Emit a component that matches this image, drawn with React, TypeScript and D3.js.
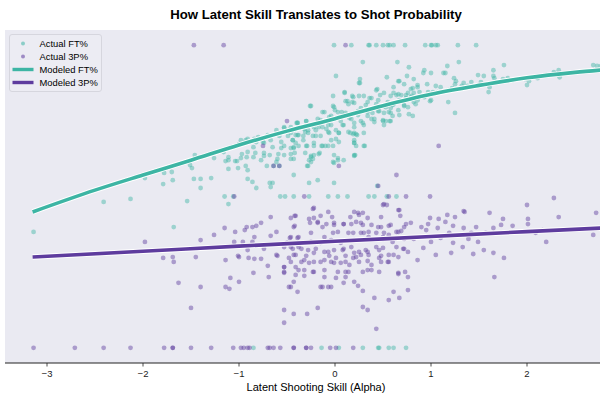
import * as d3 from "d3";
import React from "react";

const ftActual: [number, number][] = [
  [-0.01, 1], [0.17, 1], [0.35, 1], [0.36, 1], [0.43, 1], [0.5, 1], [0.55, 1], [0.57, 1], [0.61, 1],
  [0.73, 1], [0.94, 1], [1.0, 1], [1.01, 1], [1.05, 1], [1.07, 1], [1.28, 1], [1.47, 1],
  [-0.85, 0], [-0.14, 0], [0.04, 0], [0.29, 0], [0.45, 0], [0.46, 0], [0.56, 0], [0.61, 0], [0.74, 0],
  [-1.15, 0.5], [-1.06, 0.5], [-0.57, 0.5], [-0.52, 0.5], [-0.43, 0.5], [-0.27, 0.5], [-0.07, 0.5],
  [0.03, 0.5], [0.13, 0.5], [0.35, 0.5], [0.41, 0.5], [0.54, 0.5], [0.64, 0.5],
  [-3.14, 0.383], [-2.41, 0.482], [-2.13, 0.492], [-1.68, 0.399], [-1.54, 0.485], [-1.11, 0.475],
  [-1.98, 0.561], [-1.78, 0.578], [-1.7, 0.581], [-1.69, 0.554], [-1.79, 0.541], [-1.51, 0.604],
  [-1.49, 0.594], [-1.46, 0.637], [-1.26, 0.627], [-1.47, 0.558], [-1.4, 0.558], [-1.29, 0.561],
  [-1.4, 0.528], [-1.16, 0.647], [-1.08, 0.663], [-0.93, 0.686], [-0.84, 0.69], [-0.75, 0.68],
  [-1.0, 0.673], [-0.97, 0.64], [-0.91, 0.647], [-0.83, 0.644], [-0.92, 0.63], [-0.74, 0.644],
  [-0.65, 0.663], [-0.53, 0.667], [-0.68, 0.637], [-0.6, 0.624], [-0.53, 0.637], [-0.43, 0.624],
  [-0.46, 0.66], [-0.41, 0.677], [-0.53, 0.729], [-0.5, 0.719], [-0.4, 0.743], [-0.46, 0.71],
  [-0.38, 0.703], [-1.11, 0.62], [-1.04, 0.617], [-1.01, 0.594], [-0.93, 0.601], [-0.91, 0.587],
  [-0.77, 0.62], [-0.71, 0.601], [-0.64, 0.601], [-0.43, 0.571], [-0.91, 0.558], [-0.86, 0.548],
  [-0.82, 0.528], [-0.68, 0.545], [-0.65, 0.545], [-1.11, 0.591], [-1.14, 0.617], [-1.02, 0.617],
  [-0.61, 0.614], [-0.58, 0.601], [-0.29, 0.601], [-0.27, 0.62], [-0.02, 0.614], [0.03, 0.62],
  [-0.67, 0.531], [-0.27, 0.545], [-0.18, 0.554], [-0.01, 0.545], [0.44, 0.535],
  [0.29, 0.944], [0.01, 0.898], [0.26, 0.888], [0.26, 0.875], [0.43, 0.851], [0.1, 0.845],
  [-0.02, 0.832], [0.19, 0.828], [0.3, 0.832], [0.36, 0.825], [0.45, 0.818], [0.13, 0.815],
  [0.18, 0.812], [0.14, 0.805], [-0.26, 0.799], [-0.01, 0.795], [0.0, 0.785], [-0.13, 0.779],
  [0.07, 0.779], [0.27, 0.792], [0.32, 0.802], [0.39, 0.776], [0.46, 0.782], [-0.04, 0.766],
  [-0.15, 0.752], [0.03, 0.759], [0.15, 0.759], [0.24, 0.769], [0.34, 0.766], [0.41, 0.756],
  [-0.3, 0.749], [-0.39, 0.743], [-0.46, 0.729], [-0.32, 0.729], [-0.23, 0.736], [-0.17, 0.729],
  [-0.07, 0.736], [0.09, 0.736], [0.2, 0.729], [0.29, 0.743], [-0.53, 0.726], [-0.28, 0.719],
  [-0.2, 0.719], [-0.09, 0.723], [0.01, 0.719], [0.14, 0.713], [-0.61, 0.719], [-0.58, 0.7],
  [-0.49, 0.7], [-0.41, 0.703], [-0.33, 0.7], [-0.23, 0.7], [-0.15, 0.7], [-0.07, 0.713],
  [0.04, 0.71], [0.19, 0.706], [0.3, 0.71], [-0.8, 0.696], [-0.7, 0.703], [-0.82, 0.68],
  [-0.74, 0.677], [-0.67, 0.686], [-0.56, 0.68], [-0.44, 0.686], [-0.38, 0.667], [-0.3, 0.667],
  [-0.29, 0.667], [-0.22, 0.667], [-0.13, 0.667], [-0.07, 0.667], [-0.02, 0.667], [0.01, 0.69],
  [0.2, 0.686], [0.22, 0.667], [-0.98, 0.686], [-0.91, 0.69], [-1.03, 0.667], [-0.85, 0.663],
  [-0.56, 0.66], [-0.43, 0.66], [-0.46, 0.64], [-0.31, 0.644], [-0.22, 0.637], [0.03, 0.627],
  [0.2, 0.634], [-1.11, 0.63], [-0.98, 0.627], [-0.85, 0.63], [-0.74, 0.634], [-0.59, 0.64],
  [-0.31, 0.713], [-0.22, 0.677], [-0.14, 0.667], [-0.1, 0.667], [0.16, 0.71], [0.23, 0.703],
  [0.2, 0.677], [0.21, 0.637], [0.3, 0.667], [-0.25, 0.634], [-0.16, 0.644], [-0.28, 0.601],
  [-0.25, 0.614], [-0.01, 0.637], [0.09, 0.62], [-0.01, 0.611],
  [0.65, 0.944], [0.77, 0.927], [0.54, 0.894], [0.75, 0.898], [0.82, 0.888], [0.67, 0.881],
  [0.92, 0.908], [0.93, 0.917], [1.0, 0.908], [1.17, 0.931], [1.29, 0.944], [1.13, 0.908],
  [1.15, 0.908], [0.61, 0.861], [0.72, 0.871], [0.81, 0.858], [0.86, 0.868], [0.96, 0.871],
  [1.05, 0.865], [1.1, 0.861], [1.24, 0.891], [1.26, 0.881], [1.25, 0.871], [1.34, 0.875],
  [1.42, 0.878], [1.38, 0.865], [1.49, 0.901], [1.55, 0.898], [1.52, 0.878], [1.65, 0.917],
  [1.65, 0.898], [1.76, 0.934], [1.66, 0.891], [1.75, 0.888], [1.8, 0.891], [1.85, 0.884],
  [1.98, 0.888], [2.02, 0.881], [2.0, 0.868], [2.11, 0.891], [2.2, 0.901], [2.28, 0.911],
  [2.33, 0.917], [2.34, 0.894], [1.6, 0.845], [1.61, 0.861], [1.32, 0.865], [1.22, 0.858],
  [0.51, 0.842], [0.61, 0.842], [0.64, 0.835], [0.69, 0.835], [0.76, 0.842], [0.82, 0.842],
  [0.88, 0.845], [0.97, 0.845], [1.02, 0.845], [1.07, 0.845], [1.18, 0.851], [0.67, 0.818],
  [0.74, 0.825], [0.79, 0.828], [0.86, 0.818], [0.93, 0.828], [1.0, 0.818], [0.55, 0.812],
  [0.61, 0.805], [0.72, 0.799], [0.84, 0.805], [0.99, 0.815], [1.18, 0.812], [0.53, 0.795],
  [0.58, 0.792], [0.66, 0.785], [0.76, 0.795], [0.81, 0.766], [1.25, 0.776], [0.51, 0.776],
  [0.56, 0.779], [0.5, 0.752], [0.53, 0.749], [0.57, 0.749], [0.51, 0.736], [0.6, 0.766],
  [2.69, 0.934], [2.73, 0.931], [2.77, 0.931],
  [0.25, 0.875], [0.66, 0.881], [0.1, 0.842], [0.18, 0.832], [0.25, 0.832], [0.38, 0.825],
  [0.47, 0.835], [0.44, 0.855], [0.58, 0.832], [0.66, 0.838], [0.74, 0.835], [0.79, 0.855],
  [0.86, 0.861], [0.8, 0.832], [-0.25, 0.799], [-0.02, 0.799], [0.11, 0.815], [0.2, 0.809],
  [0.34, 0.812], [0.43, 0.805], [0.51, 0.799], [0.6, 0.802], [0.72, 0.802], [0.82, 0.812],
  [-0.11, 0.779], [0.03, 0.779], [0.11, 0.776], [0.24, 0.782], [0.34, 0.779], [0.45, 0.782],
  [0.58, 0.776], [0.67, 0.769], [0.77, 0.772], [-0.39, 0.743], [-0.3, 0.749], [-0.18, 0.756],
  [-0.06, 0.762], [0.06, 0.749], [0.17, 0.756], [0.27, 0.749], [0.38, 0.756], [0.5, 0.749],
  [0.58, 0.749], [-0.43, 0.719], [-0.32, 0.723], [-0.22, 0.729], [-0.13, 0.729], [-0.04, 0.736],
  [0.08, 0.736], [0.2, 0.743], [0.3, 0.736], [0.41, 0.746], [-0.39, 0.703], [-0.28, 0.71],
  [-0.2, 0.7], [-0.06, 0.71], [0.04, 0.71], [0.2, 0.71], [-0.44, 0.686], [-0.33, 0.686],
  [-0.04, 0.686], [0.04, 0.68], [0.22, 0.706], [-0.43, 0.663], [0.2, 0.677], [-0.42, 0.644],
  [-0.25, 0.63], [-0.17, 0.64], [0.31, 0.667], [0.2, 0.637], [-0.46, 0.624], [-0.23, 0.624],
];

const tpActual: [number, number][] = [
  [-1.47, 1], [-1.16, 1], [0.11, 1],
  [-3.14, 0], [-2.71, 0], [-2.41, 0], [-2.13, 0], [-1.78, 0], [-1.69, 0], [-1.69, 0], [-1.5, 0],
  [-1.29, 0], [-1.06, 0], [-0.98, 0], [-0.95, 0], [-0.91, 0], [-0.89, 0], [-0.7, 0], [-0.68, 0],
  [-0.64, 0], [-0.57, 0], [-0.43, 0], [-0.43, 0], [-0.3, 0], [-0.3, 0], [-0.25, 0], [-0.05, 0],
  [0.01, 0], [0.19, 0],
  [-0.5, 0.749], [-0.75, 0.667], [-0.64, 0.601], [-0.58, 0.601], [-1.05, 0.5], [-0.32, 0.5],
  [0.04, 0.601], [0.64, 0.571], [0.45, 0.535], [0.56, 0.5], [0.74, 0.5], [0.99, 0.5], [1.08, 0.667],
  [-1.98, 0.35], [-1.79, 0.297], [-1.69, 0.3], [-1.68, 0.284], [-1.63, 0.215],
  [-1.45, 0.3], [-1.4, 0.356], [-1.26, 0.373], [-1.14, 0.29], [-1.15, 0.396], [-1.04, 0.383],
  [-1.05, 0.35], [-0.96, 0.35], [-0.94, 0.389], [-0.92, 0.399], [-0.86, 0.399], [-0.82, 0.403],
  [-0.77, 0.413], [-0.84, 0.366], [-0.86, 0.35], [-0.91, 0.323], [-1.0, 0.3], [-0.9, 0.297],
  [-0.77, 0.294], [-0.84, 0.294], [-1.0, 0.218], [-1.09, 0.231], [-1.14, 0.201], [-1.1, 0.195],
  [-1.4, 0.201], [-0.85, 0.248], [-0.7, 0.271], [-0.69, 0.234], [-0.67, 0.432], [-0.61, 0.383],
  [-0.61, 0.307], [-0.46, 0.429], [-0.41, 0.436], [-0.43, 0.399], [-0.47, 0.363], [-0.39, 0.363],
  [-0.46, 0.333], [-0.38, 0.333], [-0.41, 0.307], [-0.53, 0.267], [-0.41, 0.267], [-0.53, 0.248],
  [-0.43, 0.218], [-0.48, 0.201], [-0.39, 0.185], [-1.5, 0.132], [-0.53, 0.125], [-0.53, 0.083],
  [-0.43, 0.112], [-0.5, 0.347], [-0.48, 0.297], [-0.74, 0.327], [-0.67, 0.37], [-0.6, 0.304],
  [-1.01, 0.304],
  [-0.22, 0.462], [0.51, 0.475], [0.54, 0.472], [0.2, 0.449], [0.25, 0.439], [0.48, 0.432],
  [0.67, 0.455], [0.68, 0.436], [0.99, 0.429], [1.08, 0.426], [1.17, 0.439], [1.25, 0.432],
  [1.35, 0.449], [1.61, 0.446], [1.75, 0.426], [2.0, 0.472], [2.01, 0.426], [1.85, 0.403],
  [2.33, 0.432], [2.72, 0.446], [1.73, 0.406], [1.65, 0.396], [1.47, 0.399], [1.34, 0.396],
  [1.23, 0.403], [1.15, 0.416], [1.07, 0.396], [0.97, 0.409], [0.9, 0.399], [0.79, 0.413],
  [0.72, 0.399], [0.58, 0.406], [0.48, 0.399], [0.38, 0.406], [0.27, 0.413], [0.17, 0.409],
  [0.09, 0.409], [-0.01, 0.406], [-0.09, 0.409], [-0.18, 0.416], [-0.27, 0.426], [-0.02, 0.38],
  [0.14, 0.38], [0.3, 0.38], [0.51, 0.38], [0.66, 0.383], [0.95, 0.389], [1.19, 0.38],
  [1.42, 0.38], [1.57, 0.38], [1.73, 0.38], [2.09, 0.38], [2.69, 0.373], [2.2, 0.35],
  [-0.25, 0.35], [-0.15, 0.347], [-0.04, 0.356], [0.06, 0.347], [0.2, 0.356], [0.35, 0.366],
  [0.5, 0.36], [0.6, 0.35], [0.72, 0.36], [0.82, 0.36], [1.0, 0.35], [1.1, 0.363], [1.23, 0.347],
  [1.39, 0.36], [1.49, 0.35], [-0.28, 0.323], [-0.2, 0.327], [-0.07, 0.317], [-0.01, 0.323],
  [0.09, 0.327], [0.2, 0.314], [0.34, 0.317], [0.46, 0.323], [0.56, 0.307], [0.71, 0.327],
  [0.86, 0.29], [0.92, 0.33], [1.05, 0.307], [1.21, 0.314], [1.33, 0.333], [1.44, 0.31],
  [1.55, 0.323], [1.65, 0.314], [1.76, 0.297], [-0.32, 0.29], [-0.22, 0.284], [-0.11, 0.29],
  [-0.01, 0.281], [0.11, 0.284], [0.22, 0.3], [0.34, 0.287], [0.46, 0.297], [0.55, 0.284],
  [0.66, 0.3], [0.76, 0.317], [-0.32, 0.257], [-0.22, 0.251], [-0.11, 0.257], [0.01, 0.231],
  [0.11, 0.251], [0.2, 0.218], [0.29, 0.251], [0.34, 0.257], [0.46, 0.251], [0.66, 0.244],
  [0.73, 0.251], [1.66, 0.234], [-0.15, 0.201], [-0.07, 0.201], [0.09, 0.215], [0.29, 0.188],
  [0.41, 0.165], [0.56, 0.158], [0.61, 0.185], [0.67, 0.165], [0.76, 0.191], [-0.18, 0.132],
  [0.29, 0.135], [0.34, 0.125], [-0.29, 0.112], [0.43, 0.063],
  [2.28, 0.495], [2.01, 0.409], [2.16, 0.389], [1.34, 0.452],
  [-0.23, 0.459], [-0.42, 0.436], [-0.22, 0.429], [-0.15, 0.436], [-0.07, 0.449], [-0.03, 0.432],
  [-0.26, 0.413], [-0.18, 0.413], [-0.42, 0.403], [-0.13, 0.399], [-0.01, 0.413], [0.09, 0.409],
  [0.16, 0.432], [0.24, 0.446], [0.29, 0.446], [0.34, 0.429], [0.5, 0.472], [0.66, 0.455],
  [0.74, 0.409], [0.22, 0.416], [0.29, 0.406], [0.45, 0.399], [0.56, 0.403], [0.64, 0.383],
  [0.69, 0.386], [-0.46, 0.366], [-0.38, 0.366], [-0.25, 0.38], [-0.11, 0.366], [0.03, 0.383],
  [0.19, 0.38], [0.27, 0.38], [0.35, 0.383], [0.43, 0.38], [0.5, 0.366], [0.56, 0.373],
  [-0.53, 0.333], [-0.44, 0.327], [-0.35, 0.327], [-0.11, 0.317], [0.08, 0.323], [0.17, 0.333],
  [0.25, 0.317], [0.32, 0.323], [0.43, 0.333], [0.5, 0.33], [0.64, 0.333], [0.72, 0.327],
  [-0.43, 0.307], [-0.3, 0.304], [-0.22, 0.314], [-0.06, 0.304], [0.01, 0.297], [0.11, 0.304],
  [0.19, 0.297], [0.27, 0.307], [0.35, 0.307], [0.48, 0.304], [0.61, 0.307], [-0.53, 0.267],
  [-0.46, 0.284], [-0.35, 0.284], [-0.27, 0.281], [-0.15, 0.284], [-0.04, 0.284], [0.06, 0.281],
  [0.15, 0.274], [0.25, 0.284], [0.38, 0.274], [0.48, 0.284], [0.56, 0.284], [-0.53, 0.251],
  [-0.38, 0.257], [-0.23, 0.251], [-0.11, 0.234], [0.03, 0.251], [0.14, 0.251], [0.38, 0.257],
  [-0.41, 0.241], [-0.32, 0.238], [0.11, 0.234], [-0.46, 0.201], [-0.13, 0.201], [-0.04, 0.201],
  [0.24, 0.205], [0.66, 0.248], [0.76, 0.234],
];

// fitted curves
const ftModel: [number, number][] = [
  [-3.15, 0.449], [-2.5, 0.521], [-2, 0.571], [-1.5, 0.62], [-1, 0.67], [-0.5, 0.716],
  [0, 0.757], [0.5, 0.8], [1, 0.838], [1.5, 0.867], [2, 0.892], [2.5, 0.91], [2.85, 0.92],
];
const tpModel: [number, number][] = [
  [-3.15, 0.3], [-2, 0.319], [-1, 0.336], [0, 0.352], [1, 0.368], [2, 0.384], [2.85, 0.397],
];

const xTicks = [-3, -2, -1, 0, 1, 2];

const FT = "#3db5a4";
const TP = "#5e3c9e";
const FONT = "'Liberation Sans', Arial, sans-serif";

export default function App() {
  const width = 600;
  const height = 400;
  const left = 5;
  const right = 600;
  const top = 30;
  const bottom = 363;
  const centerX = 316; // the original figure is wider than the crop

  const x = d3.scaleLinear().domain([-3.4375, 2.7604]).range([left, right]);
  const y = d3.scaleLinear().domain([-0.05, 1.05]).range([bottom, top]);

  const line = d3
    .line<[number, number]>()
    .x((d) => x(d[0]))
    .y((d) => y(d[1]))
    .curve(d3.curveMonotoneX);

  const legendItems = [
    { label: "Actual FT%", color: FT, kind: "dot" },
    { label: "Actual 3P%", color: TP, kind: "dot" },
    { label: "Modeled FT%", color: FT, kind: "line" },
    { label: "Modeled 3P%", color: TP, kind: "line" },
  ];

  return (
    <svg
      width={width}
      height={height}
      style={{ position: "absolute", left: 0, top: 0, background: "#fff" }}
      fontFamily={FONT}
    >
      <defs>
        <clipPath id="plot">
          <rect x={left} y={top} width={right - left} height={bottom - top} />
        </clipPath>
      </defs>
      <text x={centerX} y={19} textAnchor="middle" fontSize={13.2} fontWeight="bold" fill="#000">
        How Latent Skill Translates to Shot Probability
      </text>
      <rect x={left} y={top} width={right - left} height={bottom - top} fill="#eaeaf2" />

      <g clipPath="url(#plot)">
        <g fill={FT} fillOpacity={0.45}>
          {ftActual.map((d, i) => (
            <circle key={i} cx={x(d[0])} cy={y(d[1])} r={2.4} />
          ))}
        </g>
        <g fill={TP} fillOpacity={0.45}>
          {tpActual.map((d, i) => (
            <circle key={i} cx={x(d[0])} cy={y(d[1])} r={2.4} />
          ))}
        </g>
        {[
          { data: ftModel, color: FT },
          { data: tpModel, color: TP },
        ].map((s, i) => (
          <g key={i} fill="none" strokeLinecap="butt">
            <path d={line(s.data) ?? ""} stroke="#fff" strokeWidth={5.5} />
            <path d={line(s.data) ?? ""} stroke={s.color} strokeWidth={3.6} />
          </g>
        ))}
      </g>

      {/* x axis */}
      <line x1={left} x2={right} y1={bottom} y2={bottom} stroke="#222" strokeWidth={1} />
      {xTicks.map((t) => (
        <g key={t} transform={`translate(${x(t)},${bottom})`}>
          <line y2={3.5} stroke="#222" strokeWidth={0.8} />
          <text y={14} textAnchor="middle" fontSize={9.5} fill="#222">
            {d3.format("")(t).replace("-", "\u2212")}
          </text>
        </g>
      ))}
      <text x={centerX} y={391} textAnchor="middle" fontSize={11} fill="#000">
        Latent Shooting Skill (Alpha)
      </text>

      {/* legend */}
      <g transform="translate(9.5,34.5)">
        <rect width={92} height={57} rx={2.5} fill="#ececf3" stroke="#d6d6de" strokeWidth={1} />
        {legendItems.map((it, i) => (
          <g key={it.label} transform={`translate(0,${9 + i * 13})`}>
            {it.kind === "dot" ? (
              <circle cx={13.5} cy={0} r={2} fill={it.color} fillOpacity={0.55} />
            ) : (
              <line x1={3} x2={24} y1={0} y2={0} stroke={it.color} strokeWidth={3.4} />
            )}
            <text x={30} y={3.3} fontSize={9.4} fill="#000">
              {it.label}
            </text>
          </g>
        ))}
      </g>
    </svg>
  );
}
